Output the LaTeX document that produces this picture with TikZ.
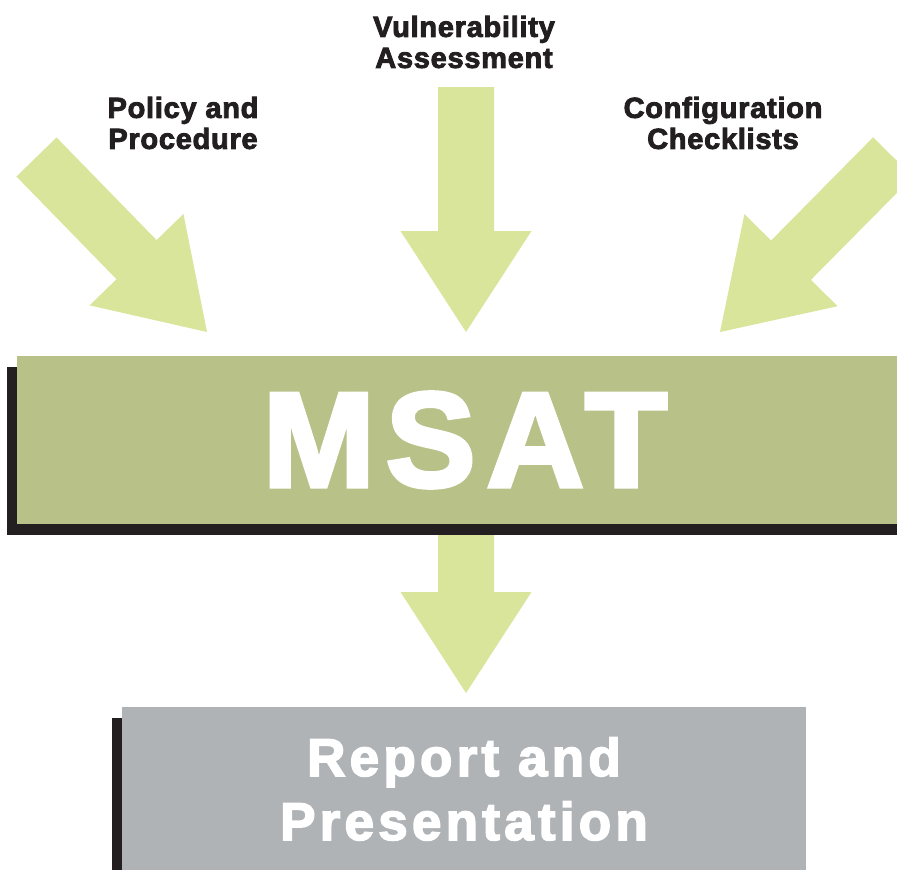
\documentclass[tikz,border=0pt]{standalone}
\usepackage{fontspec}
\setmainfont{Liberation Sans}
\usepackage{xcolor}
\usetikzlibrary{calc}
\usetikzlibrary{shadows}
\usetikzlibrary{positioning}

\definecolor{arrowgreen}{RGB}{216,229,155}
\definecolor{msatgreen}{RGB}{184,194,136}
\definecolor{reportgrey}{RGB}{176,179,182}
\definecolor{inkblack}{RGB}{35,31,32}

\newfontfamily\labelfont{Liberation Sans}[LetterSpace=2.5, FakeBold=3]
\newfontfamily\msatfont{Liberation Sans}[LetterSpace=8, FakeBold=3]
\newfontfamily\reportfont{Liberation Sans}[LetterSpace=8, FakeBold=3]

\tikzset{
  toplabel/.style={font=\labelfont\bfseries\fontsize{29}{31}\selectfont,
    text=inkblack, align=center, inner sep=0pt},
  boxshadow/.style={drop shadow={shadow xshift=-10pt, shadow yshift=-11pt,
    fill=inkblack, opacity=1}},
  msatbox/.style={rectangle, fill=msatgreen, boxshadow, text=white,
    minimum width=896pt, minimum height=168pt, inner sep=0pt,
    font=\msatfont\bfseries\fontsize{135}{140}\selectfont},
  reportbox/.style={rectangle, fill=reportgrey, boxshadow, text=white,
    minimum width=684pt, minimum height=164pt, inner sep=0pt, align=center,
    font=\reportfont\bfseries\fontsize{53}{64}\selectfont}
}

% fat block arrow from tail #1 to tip #2
\newcommand\fatarrow[2]{%
  \coordinate (#1-head) at ($(#2)!101pt!(#1)$);
  \fill [arrowgreen]
    ($(#1)!28pt!90:(#2)$) --
    ($(#1-head)!28pt!-90:(#1)$) --
    ($(#1-head)!65.5pt!-90:(#1)$) --
    (#2) --
    ($(#1-head)!65.5pt!90:(#1)$) --
    ($(#1-head)!28pt!90:(#1)$) --
    ($(#1)!28pt!-90:(#2)$) -- cycle;
}

\begin{document}
\begin{tikzpicture}[x=1pt, y=-1pt]
  \useasboundingbox (0,0) rectangle (897,870);
  \clip (0,0) rectangle (897,870);

  \node [toplabel] (vuln) at (464,42) {Vulnerability\\Assessment};
  \node [toplabel] (policy) at (183,123) {Policy and\\Procedure};
  \node [toplabel] (config) at (723,123) {Configuration\\Checklists};

  \coordinate (ptail) at (36.5,157);
  \coordinate (ptip) at (207,332);
  \coordinate (vtail) at (466,87);
  \coordinate (vtip) at (466,332);
  \coordinate (ctail) at (893,157);
  \coordinate (ctip) at (720,332);
  \coordinate (rtail) at (466,535);
  \coordinate (rtip) at (466,693);

  \fatarrow{ptail}{ptip}
  \fatarrow{vtail}{vtip}
  \fatarrow{ctail}{ctip}
  \fatarrow{rtail}{rtip}

  \node [msatbox] (msat) at (465,440) {MSAT};
  \node [reportbox] (report) at (464,789) {Report and\\Presentation};
\end{tikzpicture}
\end{document}
